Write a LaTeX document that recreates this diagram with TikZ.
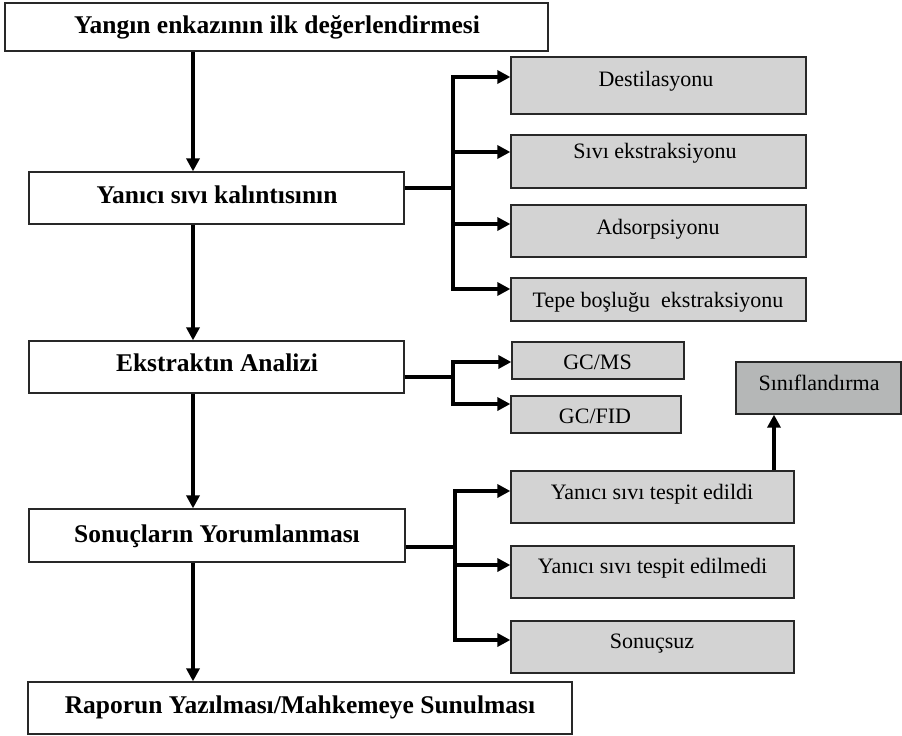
\documentclass[tikz,border=0pt]{standalone}
\usepackage{fontspec}
\setmainfont{Liberation Serif}
\usetikzlibrary{arrows.meta}
\definecolor{boxgray}{RGB}{211,211,211}
\definecolor{darkgray}{RGB}{181,183,183}
\definecolor{edge}{RGB}{40,40,40}
\begin{document}
\begin{tikzpicture}[x=1pt,y=-1pt,
  wbox/.style={draw=edge, line width=1.3pt, fill=white, inner sep=0pt},
  gbox/.style={draw=edge, line width=1.3pt, fill=boxgray, inner sep=0pt},
  sbox/.style={draw=edge, line width=1.3pt, fill=darkgray, inner sep=0pt},
  btext/.style={font=\fontsize{25.5}{30}\selectfont\bfseries, anchor=base, inner sep=0pt},
  rtext/.style={font=\fontsize{22}{26}\selectfont, anchor=base, inner sep=0pt},
  bar/.style={line width=4pt, line join=miter},
  conn/.style={line width=4pt, line join=miter, -{Triangle[length=13pt,width=13pt]}},
  conntwo/.style={line width=4pt, line join=miter, {Triangle[length=13pt,width=13pt]}-{Triangle[length=13pt,width=13pt]}}
]
\useasboundingbox (0,0) rectangle (902,736);

% left column boxes
\node[wbox, minimum width=543pt, minimum height=48pt] (top) at (276.5,27) {};
\node[wbox, minimum width=375pt, minimum height=52pt] (yk) at (216.5,198) {};
\node[wbox, minimum width=375pt, minimum height=52pt] (ea) at (216.5,367) {};
\node[wbox, minimum width=376pt, minimum height=53pt] (sy) at (217,535.5) {};
\node[wbox, minimum width=544pt, minimum height=52pt] (rp) at (300,708) {};

\node[btext] (ttop) at (277,33) {Yangın enkazının ilk değerlendirmesi};
\node[btext] (tyk) at (217,203) {Yanıcı sıvı kalıntısının};
\node[btext] (tea) at (217,371) {Ekstraktın Analizi};
\node[btext] (tsy) at (217,542) {Sonuçların Yorumlanması};
\node[btext] (trp) at (300,713) {Raporun Yazılması/Mahkemeye Sunulması};

% right column boxes
\node[gbox, minimum width=295pt, minimum height=57pt] (d1) at (658.5,85.5) {};
\node[gbox, minimum width=295pt, minimum height=53pt] (d2) at (658.5,161.5) {};
\node[gbox, minimum width=295pt, minimum height=52pt] (d3) at (658.5,231) {};
\node[gbox, minimum width=295pt, minimum height=43pt] (d4) at (658.5,299.5) {};
\node[gbox, minimum width=172pt, minimum height=37pt] (g1) at (598,360.5) {};
\node[gbox, minimum width=170pt, minimum height=37pt] (g2) at (596,414.5) {};
\node[sbox, minimum width=165pt, minimum height=52pt] (sf) at (818.5,388) {};
\node[gbox, minimum width=283pt, minimum height=52pt] (r1) at (652.5,497) {};
\node[gbox, minimum width=283pt, minimum height=52pt] (r2) at (652.5,572) {};
\node[gbox, minimum width=283pt, minimum height=52pt] (r3) at (652.5,647) {};

\node[rtext] (td1) at (656,86) {Destilasyonu};
\node[rtext] (td2) at (655,158) {Sıvı ekstraksiyonu};
\node[rtext] (td3) at (658,234) {Adsorpsiyonu};
\node[rtext] (td4) at (658,307) {Tepe boşluğu\ \ ekstraksiyonu};
\node[rtext] (tg1) at (597.5,369) {GC/MS};
\node[rtext] (tg2) at (595,423) {GC/FID};
\node[rtext] (tsf) at (819,390) {Sınıflandırma};
\node[rtext] (tr1) at (652,499) {Yanıcı sıvı tespit edildi};
\node[rtext] (tr2) at (652.5,573) {Yanıcı sıvı tespit edilmedi};
\node[rtext] (tr3) at (652,648) {Sonuçsuz};

% main vertical arrows
\coordinate (ax) at (193,0);
\draw[conn] (top.south -| ax) -- (yk.north -| ax);
\draw[conn] (yk.south -| ax) -- (ea.north -| ax);
\draw[conn] (ea.south -| ax) -- (sy.north -| ax);
\draw[conn] (sy.south -| ax) -- (rp.north -| ax);

% bracket 1
\coordinate (j1) at (453,188);
\coordinate (p1) at (453,77);
\coordinate (p2) at (453,152);
\coordinate (p3) at (453,224);
\coordinate (p4) at (453,289);
\draw[bar] (yk.east |- j1) -- (j1);
\draw[conntwo] (d1.west |- p1) -- (p1) -- (p4) -- (d4.west |- p4);
\draw[conn] (p2) -- (d2.west |- p2);
\draw[conn] (p3) -- (d3.west |- p3);

% bracket 2
\coordinate (j2) at (453,377);
\coordinate (q1) at (453,362);
\coordinate (q2) at (453,404);
\draw[bar] (ea.east |- j2) -- (j2);
\draw[conntwo] (g1.west |- q1) -- (q1) -- (q2) -- (g2.west |- q2);

% bracket 3
\coordinate (j3) at (455,547);
\coordinate (s1) at (455,491);
\coordinate (s2) at (455,565);
\coordinate (s3) at (455,640);
\draw[bar] (sy.east |- j3) -- (j3);
\draw[conntwo] (r1.west |- s1) -- (s1) -- (s3) -- (r3.west |- s3);
\draw[conn] (s2) -- (r2.west |- s2);

% classification arrow
\coordinate (sx) at (774,0);
\draw[conn] (r1.north -| sx) -- (sf.south -| sx);
\end{tikzpicture}
\end{document}
